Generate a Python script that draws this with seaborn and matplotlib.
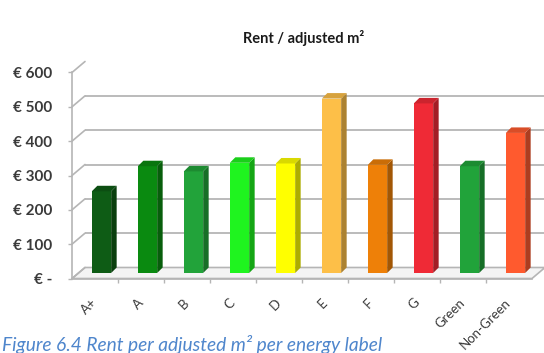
import numpy as np
import pandas as pd
import matplotlib
matplotlib.use("Agg")
import matplotlib.pyplot as plt
import seaborn as sns
from matplotlib.patches import Polygon
from matplotlib.lines import Line2D
from matplotlib.transforms import IdentityTransform
from matplotlib.colors import to_rgb

# Rent per adjusted m2 by energy label
labels = ["A+", "A", "B", "C", "D", "E", "F", "G", "Green", "Non-Green"]
rent = [238, 311, 296, 321, 319, 508, 315, 494, 311, 408]
bar_colors = ["#0e5c15", "#0a8a10", "#22a33a", "#1ff41f", "#ffff00",
              "#fdbf48", "#ee8008", "#ef2a36", "#21a33a", "#ff5a2e"]
y_ticks = [0, 100, 200, 300, 400, 500, 600]
y_tick_labels = ["€ -", "€ 100", "€ 200", "€ 300", "€ 400", "€ 500", "€ 600"]

df = pd.DataFrame({"label": labels, "rent": rent})

sns.set_theme(style="white")
plt.rcParams["font.family"] = ["Lato", "DejaVu Sans"]

W, H = 544, 353
DPI = 100
fig = plt.figure(figsize=(W / DPI, H / DPI), dpi=DPI)


def rect(l, r, t, b):
    return [l / W, (H - b) / H, (r - l) / W, (b - t) / H]


# depth of the 3-D box (pixels): back wall is up-right of the front plane
DX, DY = 13, 11
back = fig.add_axes(rect(85, 85 + 460, 61.5, 267.5))
mid = fig.add_axes(rect(85 - DX / 2, 85 - DX / 2 + 460, 61.5 + DY / 2, 267.5 + DY / 2))
front = fig.add_axes(rect(85 - DX, 85 - DX + 460, 61.5 + DY, 267.5 + DY))
for z, a in enumerate([back, mid, front]):
    a.set_zorder(z)
    a.set_xlim(-0.5, len(labels) - 0.5)
    a.set_ylim(0, 600)

grid_col = "#b5b5b5"

# back wall: horizontal gridlines
back.patch.set_visible(False)
for s in back.spines.values():
    s.set_visible(False)
back.set_xticks([])
back.set_yticks([])
for v in y_ticks[1:]:
    back.axhline(v, color=grid_col, lw=1.3, zorder=1)

# floor and left-wall diagonals, built from the front/back axes scales
xl, xr = -0.5, len(labels) - 0.5
f0l = front.transData.transform((xl, 0))
f0r = front.transData.transform((xr, 0))
b0l = back.transData.transform((xl, 0))
b0r = back.transData.transform((xr, 0))
floor = Polygon([f0l, f0r, b0r, b0l], closed=True, facecolor="#f4f4f4",
                edgecolor=grid_col, lw=1.2, transform=IdentityTransform(),
                clip_on=False, zorder=0)
back.add_patch(floor)
for v in y_ticks:
    p1 = front.transData.transform((xl, v))
    p2 = back.transData.transform((xl, v))
    back.add_line(Line2D([p1[0], p2[0]], [p1[1], p2[1]], color=grid_col,
                         lw=1.2, transform=IdentityTransform(), clip_on=False))

# bars
mid.patch.set_visible(False)
sns.barplot(data=df, x="label", y="rent", hue="label", palette=bar_colors,
            legend=False, width=0.42, saturation=1, ax=mid, edgecolor="none")
mid.set_xlim(-0.5, len(labels) - 0.5)
mid.set_ylim(0, 600)
for s in mid.spines.values():
    s.set_visible(False)
mid.set_xticks([])
mid.set_yticks([])
mid.set_xlabel("")
mid.set_ylabel("")

# side and top faces of each bar
d = 5.5
for p in list(mid.patches):
    x0, w, h = p.get_x(), p.get_width(), p.get_height()
    (px0, py0) = mid.transData.transform((x0, 0))
    (px1, py1) = mid.transData.transform((x0 + w, h))
    base = np.array(to_rgb(p.get_facecolor()))
    side = Polygon([(px1, py0), (px1 + d, py0 + d), (px1 + d, py1 + d), (px1, py1)],
                   closed=True, facecolor=base * 0.68, edgecolor="none",
                   transform=IdentityTransform(), clip_on=False, zorder=3)
    top = Polygon([(px0, py1), (px1, py1), (px1 + d, py1 + d), (px0 + d, py1 + d)],
                  closed=True, facecolor=base * 0.85, edgecolor="none",
                  transform=IdentityTransform(), clip_on=False, zorder=3)
    mid.add_patch(side)
    mid.add_patch(top)

# front plane: axis, ticks and labels
front.patch.set_visible(False)
for k in ["top", "right"]:
    front.spines[k].set_visible(False)
for k in ["left", "bottom"]:
    front.spines[k].set_color(grid_col)
    front.spines[k].set_linewidth(1.2)
front.set_yticks(y_ticks)
front.set_yticklabels(y_tick_labels, fontsize=11, fontweight="bold", color="#3a3a3a")
front.tick_params(axis="y", left=True, length=3, width=1, color=grid_col, pad=11)
front.set_xticks(range(len(labels)))
front.set_xticklabels(labels, rotation=45, ha="right", va="center",
                      rotation_mode="anchor", fontsize=9.5, color="#3a3a3a")
front.set_xticks(np.arange(0.5, len(labels) - 0.5, 1), minor=True)
front.tick_params(axis="x", which="major", bottom=True, length=0, pad=16)
front.tick_params(axis="x", which="minor", bottom=True, length=3, width=1,
                  color=grid_col)

fig.text(304 / W, 1 - 38 / H, "Rent / adjusted m²", ha="center", va="center",
         fontsize=10.5, fontweight="bold", color="#1a1a1a")
fig.text(2 / W, 1 - 344 / H, "Figure 6.4 Rent per adjusted m² per energy label",
         ha="left", va="center", fontsize=13.8, fontstyle="italic", color="#4f86cc")

fig.savefig("out.png", dpi=DPI)
